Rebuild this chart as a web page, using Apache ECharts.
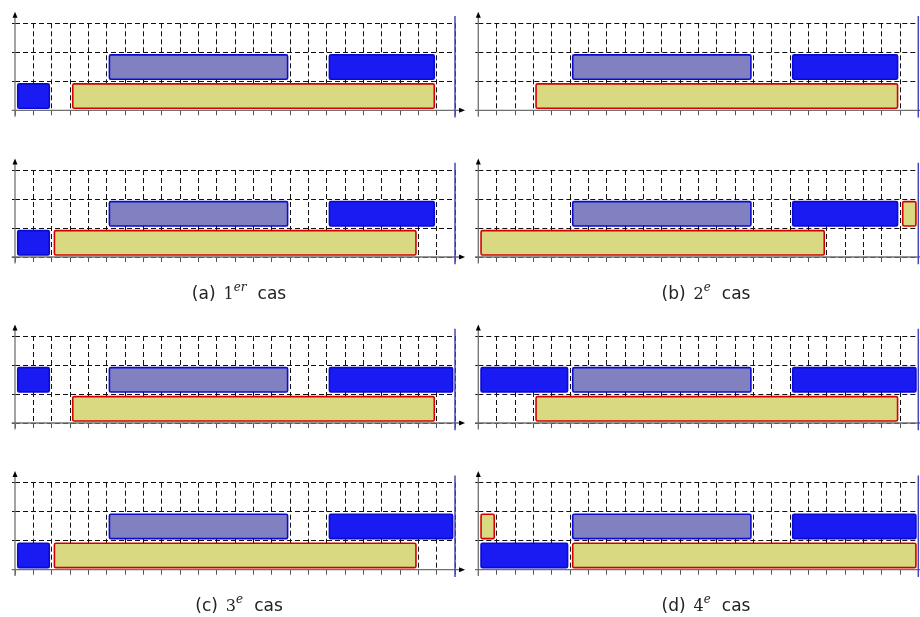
<!DOCTYPE html>
<html>
<head>
<meta charset="utf-8">
<script src="https://cdn.jsdelivr.net/npm/echarts@6/dist/echarts.min.js"></script>
<style>
html,body{margin:0;padding:0;background:#fff;}
#chart{width:920px;height:617px;}
</style>
</head>
<body>
<div id="chart"></div>
<script>
// types de tâches
var BLEU = 0, VIOLET = 1, JAUNE = 2;

// [début, fin, ligne, type]
var casA1 = [[0, 2, 0, BLEU], [3, 23, 0, JAUNE], [5, 15, 1, VIOLET], [17, 23, 1, BLEU]];
var casA2 = [[0, 2, 0, BLEU], [2, 22, 0, JAUNE], [5, 15, 1, VIOLET], [17, 23, 1, BLEU]];
var casB1 = [[3, 23, 0, JAUNE], [5, 15, 1, VIOLET], [17, 23, 1, BLEU]];
var casB2 = [[0, 19, 0, JAUNE], [5, 15, 1, VIOLET], [17, 23, 1, BLEU], [23, 24, 1, JAUNE]];
var casC1 = [[0, 2, 1, BLEU], [3, 23, 0, JAUNE], [5, 15, 1, VIOLET], [17, 24, 1, BLEU]];
var casC2 = [[0, 2, 0, BLEU], [2, 22, 0, JAUNE], [5, 15, 1, VIOLET], [17, 24, 1, BLEU]];
var casD1 = [[0, 5, 1, BLEU], [3, 23, 0, JAUNE], [5, 15, 1, VIOLET], [17, 24, 1, BLEU]];
var casD2 = [[0, 1, 1, JAUNE], [0, 5, 0, BLEU], [5, 24, 0, JAUNE], [5, 15, 1, VIOLET], [17, 24, 1, BLEU]];

var xMax = 24;   // horizon
var yMax = 3;    // nombre de lignes

var legendes = ['(a)', '(b)', '(c)', '(d)'];
var numeros = ['1', '2', '3', '4'];
var exposants = ['er', 'e', 'e', 'e'];

// ordre d'affichage : haut gauche, haut droite, ...
var panneaux = [casA1, casB1, casA2, casB2, casC1, casD1, casC2, casD2];
var gauches = [15, 478.3];
var hauts = [23.3, 170, 336, 482.7];

var remplissage = ['#1a1af2', '#8181c1', '#d9d982'];
var contour = ['#0a0ad0', '#0a0ad0', '#d40000'];

function renderTache(params, api) {
	var type = api.value(3);
	var p0 = api.coord([api.value(0) + 0.15, api.value(2) + 0.91]);
	var p1 = api.coord([api.value(1) - 0.13, api.value(2) + 0.07]);
	return {
		type: 'rect',
		shape: {x: p0[0], y: p0[1], width: p1[0] - p0[0], height: p1[1] - p0[1], r: 1.5},
		style: {fill: remplissage[type], stroke: contour[type], lineWidth: 1.6}
	};
}

function renderAxes(params, api) {
	var xa = api.coord([-0.18, 0]);
	var xb = api.coord([xMax + 0.55, 0]);
	var ya = api.coord([0, -0.22]);
	var yb = api.coord([0, yMax + 0.4]);
	var b0 = api.coord([xMax, -0.25]);
	var b1 = api.coord([xMax, yMax + 0.25]);
	var axe = {stroke: '#707070', lineWidth: 1.3};
	return {
		type: 'group',
		children: [
			{type: 'line', shape: {x1: xa[0], y1: xa[1], x2: xb[0] - 4, y2: xb[1]}, style: axe},
			{type: 'line', shape: {x1: ya[0], y1: ya[1], x2: yb[0], y2: yb[1] + 4}, style: axe},
			{type: 'polygon', shape: {points: [[xb[0], xb[1]], [xb[0] - 6, xb[1] - 2.5], [xb[0] - 6, xb[1] + 2.5]]}, style: {fill: '#000'}},
			{type: 'polygon', shape: {points: [[yb[0], yb[1]], [yb[0] - 2.5, yb[1] + 6], [yb[0] + 2.5, yb[1] + 6]]}, style: {fill: '#000'}},
			{type: 'line', shape: {x1: b0[0], y1: b0[1], x2: b1[0], y2: b1[1]}, style: {stroke: '#4646b4', lineWidth: 1.5}}
		]
	};
}

var grids = [], xAxes = [], yAxes = [], series = [], titles = [];
var tirets = {color: '#111', width: 1, type: [5, 3]};

for (var i = 0; i < panneaux.length; i++) {
	grids.push({left: gauches[i % 2], top: hauts[Math.floor(i / 2)], width: 440, height: 87});
	xAxes.push({
		type: 'value', gridIndex: i, min: 0, max: xMax, interval: 1,
		axisLine: {show: false},
		axisTick: {show: true, length: 5, lineStyle: {color: '#555', width: 1}},
		axisLabel: {show: false},
		splitLine: {show: true, showMinLine: false, lineStyle: tirets}
	});
	yAxes.push({
		type: 'value', gridIndex: i, min: 0, max: yMax, interval: 1,
		axisLine: {show: false},
		axisTick: {show: true, length: 3, lineStyle: {color: '#111', width: 1}},
		axisLabel: {show: false},
		splitLine: {show: true, lineStyle: tirets}
	});
	series.push({
		type: 'custom', xAxisIndex: i, yAxisIndex: i,
		renderItem: renderTache, data: panneaux[i], z: 3, silent: true
	});
	series.push({
		type: 'custom', xAxisIndex: i, yAxisIndex: i,
		renderItem: renderAxes, data: [[0, 0]], z: 4, silent: true
	});
}

var centres = [234, 701];
var hautsLegende = [277, 589];
var police = {fontFamily: 'DejaVu Sans', fontSize: 17, fontWeight: 'normal', color: '#222', lineHeight: 26};
for (var k = 0; k < 4; k++) {
	titles.push({
		text: '{a|' + legendes[k] + '}{e1| }{n|' + numeros[k] + '}{s|' + exposants[k] + '}{e2| }{a|cas}',
		left: centres[k % 2], top: hautsLegende[Math.floor(k / 2)], textAlign: 'center',
		textStyle: {
			fontWeight: 'normal',
			rich: {
				a: police,
				e1: {fontSize: 17, width: 8, lineHeight: 26},
				e2: {fontSize: 17, width: 11, lineHeight: 26},
				n: {fontFamily: 'DejaVu Serif', fontSize: 16, fontWeight: 'normal', color: '#222', lineHeight: 26},
				s: {fontFamily: 'DejaVu Serif', fontStyle: 'italic', fontWeight: 'normal', fontSize: 12, color: '#222', lineHeight: 12, verticalAlign: 'top'}
			}
		}
	});
}

var chart = echarts.init(document.getElementById('chart'));
chart.setOption({
	animation: false,
	title: titles,
	grid: grids,
	xAxis: xAxes,
	yAxis: yAxes,
	series: series
});
</script>
</body>
</html>
